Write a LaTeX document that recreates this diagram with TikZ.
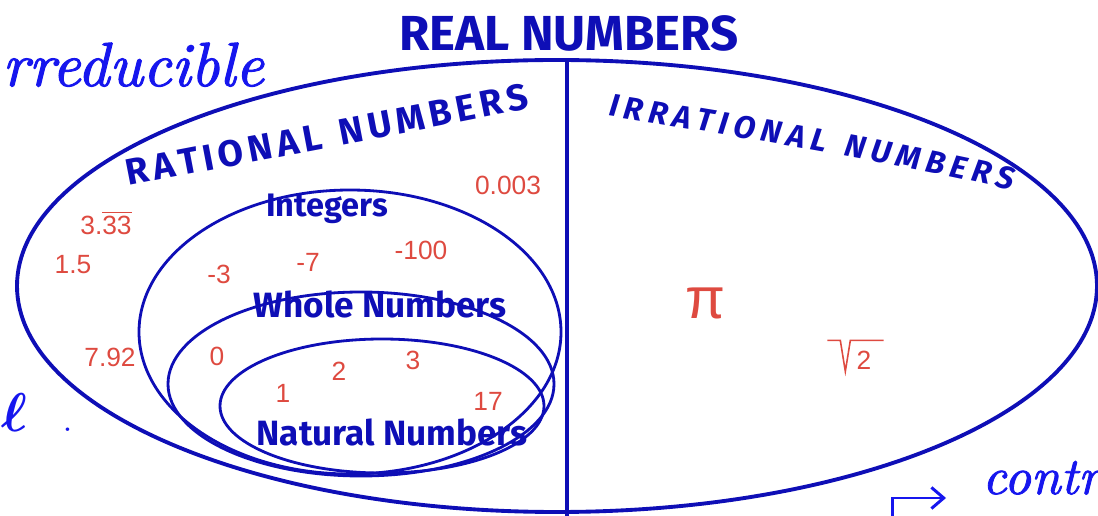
\documentclass[tikz,border=0pt]{standalone}
\usepackage{amsmath}
\usepackage{fontspec}
\newfontfamily\labelfont{Fira Sans}
\newfontfamily\numfont{Liberation Sans}
\newfontface\penfont{lmroman10-italic.otf}[FakeBold=1.6]
\usepackage{graphicx}
\usepackage{tikz}
\usetikzlibrary{arrows.meta, positioning, decorations.text}
\usepackage{xcolor}
\definecolor{venblue}{RGB}{14,14,182}
\definecolor{penblue}{RGB}{22,22,238}
\definecolor{numred}{RGB}{222,74,64}
\newcommand{\topbar}[1]{$\overline{\hbox{#1}}$}
\tikzset{
  setline/.style={venblue, line width=1.6pt},
  setname/.style={venblue, inner sep=0pt, font=\labelfont\bfseries\fontsize{20}{20}\selectfont},
  num/.style={numred, inner sep=0pt, font=\numfont\fontsize{15}{15}\selectfont},
  scrawl/.style={penblue, inner sep=0pt, font=\penfont\fontsize{35.5}{36}\selectfont},
}

\begin{document}
\begin{tikzpicture}[x=0.02cm, y=-0.02cm]
  \useasboundingbox (0,0) rectangle (1098,516);
  % whole set and the split
  \node[setname, font=\labelfont\bfseries\fontsize{28}{28}\selectfont] (real) at (569,33) {REAL NUMBERS};
  \draw[setline, line width=2.2pt] (557,286) ellipse [x radius=540, y radius=226];
  \coordinate (divtop) at (567,60);
  \coordinate (divbot) at (567,516);
  \draw[setline, line width=2.6pt] (divtop) -- (divbot);
  % nested subsets
  \draw[setline] (350,332) ellipse [x radius=211, y radius=142];
  \draw[setline] (361,384) ellipse [x radius=193, y radius=92];
  \draw[setline] (382,406) ellipse [x radius=162, y radius=67];
  % curved headings
  \path[decorate, decoration={text along path, text color=venblue, text align=fit to path,
    text={|\labelfont\bfseries\fontsize{21}{21}\selectfont|RATIONAL NUMBERS}}]
    (128,186) .. controls (250,162) and (400,135) .. (530,108);
  \path[decorate, decoration={text along path, text color=venblue, text align=fit to path,
    text={|\labelfont\bfseries\itshape\fontsize{18}{18}\selectfont|IRRATIONAL NUMBERS}}]
    (608,116) .. controls (730,135) and (880,160) .. (1012,190);
  \node[setname, font=\labelfont\bfseries\fontsize{18.5}{18.5}\selectfont] (integers) at (327,209) {Integers};
  \node[setname] (whole) at (380,304) {Whole Numbers};
  \node[setname] (natural) at (392,432) {Natural Numbers};
  % sample numbers
  \node[num] (pointthree) at (508,185) {0.003};
  \node[num] (recur) at (106,223) {3.\topbar{33}};
  \node[num] (onehalf) at (73,265) {1.5};
  \node[num] (sevennine) at (110,357) {7.92};
  \node[num] (minthree) at (219,274) {-3};
  \node[num] (minseven) at (308,262) {-7};
  \node[num] (minhundred) at (421,250) {-100};
  \node[num] (zero) at (217,356) {0};
  \node[num] (one) at (283,393) {1};
  \node[num] (two) at (339,371) {2};
  \node[num] (three) at (413,360) {3};
  \node[num] (seventeen) at (488,401) {17};
  \node[num, font=\numfont\fontsize{33}{33}\selectfont] (piglyph) at (705,303) {π};
  \node[num] (roottwo) at (864,360) {2};
  \draw[numred, line width=0.9pt] ([shift={(-29,-10)}]roottwo.north west) -- ++(13,0) -- ++(5,31) -- ++(5,-31)
    -- ([shift={(12,-10)}]roottwo.north east);
  % pen notes
  \node[scrawl, anchor=base west] (irred) at (2,86) {rreducible};
  \node[scrawl, anchor=base west, font=\fontsize{24.88}{25}\selectfont] (ellnote) at (1,432) {\scalebox{1.25}{$\boldsymbol{\ell}$}\hspace{0.8em}.};
  \node[scrawl, anchor=base west, font=\penfont\fontsize{30}{30}\selectfont] (contnote) at (982,494) {contr};
  \coordinate (hookfoot) at (892,516);
  \coordinate (hooktip) at (946,498);
  \draw[penblue, line width=1.7pt, -{Straight Barb[length=7pt, width=12pt]}] (hookfoot) |- (hooktip);
\end{tikzpicture}
\end{document}
